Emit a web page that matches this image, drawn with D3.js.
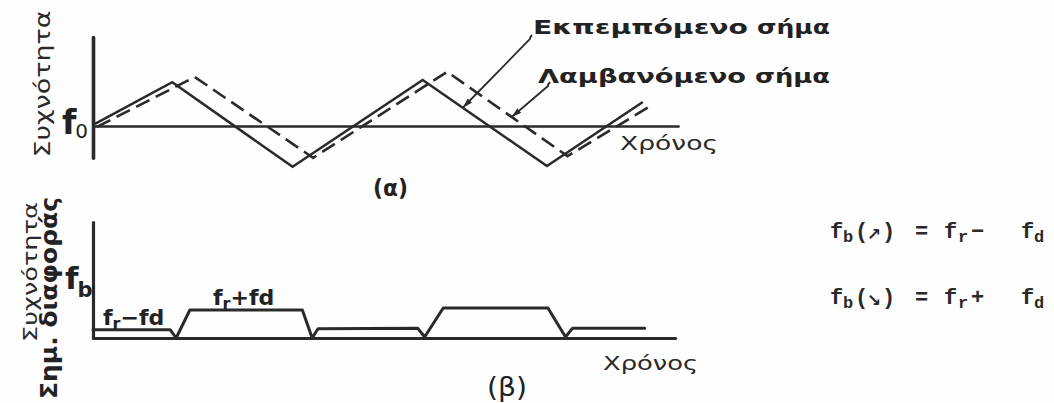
<!DOCTYPE html>
<html lang="el">
<head>
<meta charset="utf-8">
<script src="https://cdn.jsdelivr.net/npm/d3@7"></script>
<style>
  html, body { margin: 0; padding: 0; background: #ffffff; }
  svg { display: block; }
</style>
</head>
<body>
<script>
// FMCW radar: transmitted / received frequency sweeps (α) and beat frequency (β)

// (α) triangular sweeps — time vs. frequency offset from f0
const transmittedT = [0.2, 8.1, 20.4, 33.7, 46.4, 56.2];
const transmittedF = [0.05, 1.02, -0.95, 1.07, -0.93, 0.56];
const receivedT    = [0.4, 10.4, 22.5, 36.2, 48.5, 57.3];
const receivedF    = [-0.02, 1.14, -0.74, 1.26, -0.70, 0.51];

// (β) beat frequency — low step fr−fd, high step fr+fd
const beatT = [0, 7.9, 8.5, 9.9, 21.4, 22.4, 23.0, 33.2, 33.9, 35.8, 46.5, 48.3, 49.0, 56.4];
const beatF = [0.85, 0.85, 0, 2.9, 2.9, 0, 0.95, 1.0, 0.1, 3.1, 3.1, 0.1, 1.0, 1.0];

// axis extents
const timeEndA = 59.8, timeEndB = 59.5;
const freqRangeA = [-0.74, 2.07];
const freqRangeB = [0, 12];

// label texts
const seriesNames = ["Εκπεμπόμενο σήμα", "Λαμβανόμενο σήμα"];
const axisTitleY = "Συχνότητα";
const axisTitleY2 = "Σημ. διαφοράς";
const axisTitleX = "Χρόνος";
const panelTags = ["(α)", "(β)"];

const W = 1054, H = 403;
const INK = "#2a2a2a";
const SANS = "'DejaVu Sans', 'Noto Sans', sans-serif";
const MONO = "'Liberation Mono', 'DejaVu Sans Mono', monospace";

const svg = d3.select("body").append("svg")
  .attr("width", W).attr("height", H)
  .attr("viewBox", `0 0 ${W} ${H}`);

svg.append("rect").attr("width", W).attr("height", H).attr("fill", "#fefefe");

// shared time scale
const x = d3.scaleLinear().domain([0, 60]).range([93, 680]);

// ---------- panel (α) ----------
const yA = d3.scaleLinear().domain([-1, 1]).range([169, 83]);
const gA = svg.append("g");

const xAxisA = d3.axisBottom(x.copy().domain([0, timeEndA]).range([x(0), x(timeEndA)]))
  .tickValues([]).tickSizeOuter(0);
gA.append("g").attr("transform", `translate(0,${yA(0)})`).call(xAxisA)
  .select(".domain").attr("stroke", INK).attr("stroke-width", 2.6).attr("stroke-linecap", "round");

const yAxisA = d3.axisLeft(yA.copy().domain(freqRangeA).range([yA(freqRangeA[0]), yA(freqRangeA[1])]))
  .tickValues([]).tickSizeOuter(0);
gA.append("g").attr("transform", `translate(${x(0)},0)`).call(yAxisA)
  .select(".domain").attr("stroke", INK).attr("stroke-width", 3.6).attr("stroke-linecap", "round");

const lineA = d3.line().x(d => x(d[0])).y(d => yA(d[1]));
const tx = d3.zip(transmittedT, transmittedF);
const rx = d3.zip(receivedT, receivedF);

gA.append("path").attr("d", lineA(rx))
  .attr("fill", "none").attr("stroke", INK).attr("stroke-width", 2.6)
  .attr("stroke-dasharray", "15,7").attr("stroke-linejoin", "miter");
gA.append("path").attr("d", lineA(tx))
  .attr("fill", "none").attr("stroke", INK).attr("stroke-width", 2.5)
  .attr("stroke-linejoin", "miter");

// value on a polyline at time t
function valueAt(ts, fs, t) {
  const i = Math.max(1, d3.bisectRight(ts, t));
  const k = (t - ts[i - 1]) / (ts[i] - ts[i - 1]);
  return fs[i - 1] + k * (fs[i] - fs[i - 1]);
}

// series labels with leader arrows
svg.append("defs").append("marker")
  .attr("id", "tip").attr("viewBox", "0 0 10 6")
  .attr("refX", 10).attr("refY", 3)
  .attr("markerWidth", 10).attr("markerHeight", 6)
  .attr("markerUnits", "userSpaceOnUse")
  .attr("orient", "auto")
  .append("path").attr("d", "M0,0 L10,3 L0,6 Z").attr("fill", INK);

const labelRows = [
  { words: seriesNames[0].split(" "), x0: 533, x1: 748, x2: 757, x3: 830, base: 34,
    tail: [530, 38], t: 37.8, ts: transmittedT, fs: transmittedF },
  { words: seriesNames[1].split(" "), x0: 538, x1: 746, x2: 755, x3: 830, base: 83,
    tail: [548, 85], t: 42.8, ts: receivedT, fs: receivedF }
];
labelRows.forEach(r => {
  gA.append("text").attr("x", r.x0).attr("y", r.base)
    .attr("font-family", SANS).attr("font-weight", "bold").attr("font-size", 20)
    .attr("fill", "#222").attr("textLength", r.x1 - r.x0).attr("lengthAdjust", "spacingAndGlyphs")
    .text(r.words[0]);
  gA.append("text").attr("x", r.x2).attr("y", r.base)
    .attr("font-family", SANS).attr("font-weight", "bold").attr("font-size", 20)
    .attr("fill", "#222").attr("textLength", r.x3 - r.x2).attr("lengthAdjust", "spacingAndGlyphs")
    .text(r.words[1]);
  const tipX = x(r.t), tipY = yA(valueAt(r.ts, r.fs, r.t));
  gA.append("path")
    .attr("d", `M${r.tail[0] + 2},${r.tail[1] - 3} Q${r.tail[0]},${r.tail[1] - 1} ${r.tail[0]},${r.tail[1] + 1} L${tipX},${tipY}`)
    .attr("fill", "none").attr("stroke", INK).attr("stroke-width", 1.8)
    .attr("marker-end", "url(#tip)");
});

// y title and f0 label
gA.append("text")
  .attr("transform", "translate(50,84) rotate(-90)")
  .attr("text-anchor", "middle")
  .attr("font-family", SANS).attr("font-size", 21).attr("fill", "#2a2a2a")
  .attr("textLength", 147).attr("lengthAdjust", "spacingAndGlyphs")
  .text(axisTitleY);

const f0 = gA.append("text").attr("x", 62).attr("y", yA(0) + 8)
  .attr("font-family", SANS).attr("font-weight", "bold").attr("fill", "#222");
f0.append("tspan").attr("font-size", 33).text("f");
f0.append("tspan").attr("font-size", 20).attr("font-weight", "normal").attr("dx", -1).attr("dy", 4).text("0");

gA.append("text").attr("x", 620).attr("y", 150)
  .attr("font-family", SANS).attr("font-size", 19).attr("fill", "#2a2a2a")
  .attr("textLength", 98).attr("lengthAdjust", "spacingAndGlyphs")
  .text(axisTitleX);

gA.append("text").attr("x", 373).attr("y", 196)
  .attr("font-family", SANS).attr("font-weight", "bold").attr("font-size", 23).attr("fill", "#222")
  .attr("textLength", 35).attr("lengthAdjust", "spacingAndGlyphs")
  .text(panelTags[0]);

// ---------- panel (β) ----------
const yB = d3.scaleLinear().domain(freqRangeB).range([338, 222]);
const gB = svg.append("g");

const xAxisB = d3.axisBottom(x.copy().domain([0, timeEndB]).range([x(0), x(timeEndB)]))
  .tickValues([]).tickSizeOuter(0);
gB.append("g").attr("transform", `translate(0,${yB(0)})`).call(xAxisB)
  .select(".domain").attr("stroke", INK).attr("stroke-width", 3).attr("stroke-linecap", "round");

const yAxisB = d3.axisLeft(yB).tickValues([]).tickSizeOuter(0);
gB.append("g").attr("transform", `translate(${x(0)},0)`).call(yAxisB)
  .select(".domain").attr("stroke", INK).attr("stroke-width", 3.2).attr("stroke-linecap", "round");

const lineB = d3.line().x(d => x(d[0])).y(d => yB(d[1]));
gB.append("path").attr("d", lineB(d3.zip(beatT, beatF)))
  .attr("fill", "none").attr("stroke", INK).attr("stroke-width", 3)
  .attr("stroke-linejoin", "round").attr("stroke-linecap", "round");

// rotated titles
gB.append("text")
  .attr("transform", "translate(37,272) rotate(-90)")
  .attr("text-anchor", "middle")
  .attr("font-family", SANS).attr("font-size", 20).attr("fill", "#2a2a2a")
  .attr("textLength", 140).attr("lengthAdjust", "spacingAndGlyphs")
  .text(axisTitleY);
gB.append("text")
  .attr("transform", "translate(57,298) rotate(-90)")
  .attr("text-anchor", "middle")
  .attr("font-family", SANS).attr("font-weight", "bold").attr("font-size", 23).attr("fill", "#222")
  .attr("textLength", 202).attr("lengthAdjust", "spacingAndGlyphs")
  .text(axisTitleY2);

// fb label
const fb = gB.append("text").attr("x", 65).attr("y", 289)
  .attr("font-family", SANS).attr("font-weight", "bold").attr("fill", "#222");
fb.append("tspan").attr("font-size", 31).text("f");
fb.append("tspan").attr("font-size", 21).attr("dx", -1).attr("dy", 8).text("b");

// step labels
function stepLabel(xPos, base, sign) {
  const t = gB.append("text").attr("x", xPos).attr("y", base)
    .attr("font-family", SANS).attr("font-weight", "bold").attr("fill", "#222");
  t.append("tspan").attr("font-size", 22).text("f");
  t.append("tspan").attr("font-size", 16).attr("dy", 4).text("r");
  t.append("tspan").attr("font-size", 22).attr("dy", -4).text(sign);
  t.append("tspan").attr("font-size", 22).text("fd");
}
stepLabel(103, 325, "−");
stepLabel(213, 305, "+");

gB.append("text").attr("x", 603).attr("y", 370)
  .attr("font-family", SANS).attr("font-size", 20).attr("fill", "#2a2a2a")
  .attr("textLength", 95).attr("lengthAdjust", "spacingAndGlyphs")
  .text(axisTitleX);

gB.append("text").attr("x", 487).attr("y", 396)
  .attr("font-family", SANS).attr("font-size", 27).attr("fill", "#222")
  .attr("textLength", 40).attr("lengthAdjust", "spacingAndGlyphs")
  .text(panelTags[1]);

// ---------- beat-frequency relations ----------
const relations = [
  { base: 238, arrow: "↗", sign: "−" },
  { base: 304, arrow: "↘", sign: "+" }
];
const gR = svg.append("g").attr("font-weight", "bold").attr("fill", "#2a2a2a");
relations.forEach(r => {
  const parts = [
    { s: "f", x: 830, size: 22, dy: 0, font: MONO },
    { s: "b", x: 843, size: 17, dy: 4, font: MONO },
    { s: "(", x: 855, size: 22, dy: 0, font: MONO },
    { s: r.arrow, x: 867, size: 17, dy: 2, font: "'DejaVu Sans', sans-serif" },
    { s: ")", x: 882, size: 22, dy: 0, font: MONO },
    { s: "=", x: 915, size: 22, dy: 0, font: MONO },
    { s: "f", x: 944, size: 22, dy: 0, font: MONO },
    { s: "r", x: 958, size: 17, dy: 4, font: MONO },
    { s: r.sign, x: 971, size: 22, dy: 0, font: MONO },
    { s: "f", x: 1021, size: 22, dy: 0, font: MONO },
    { s: "d", x: 1034, size: 17, dy: 4, font: MONO }
  ];
  parts.forEach(p => {
    gR.append("text").attr("x", p.x).attr("y", r.base + p.dy)
      .attr("font-family", p.font).attr("font-size", p.size).text(p.s);
  });
});
</script>
</body>
</html>
